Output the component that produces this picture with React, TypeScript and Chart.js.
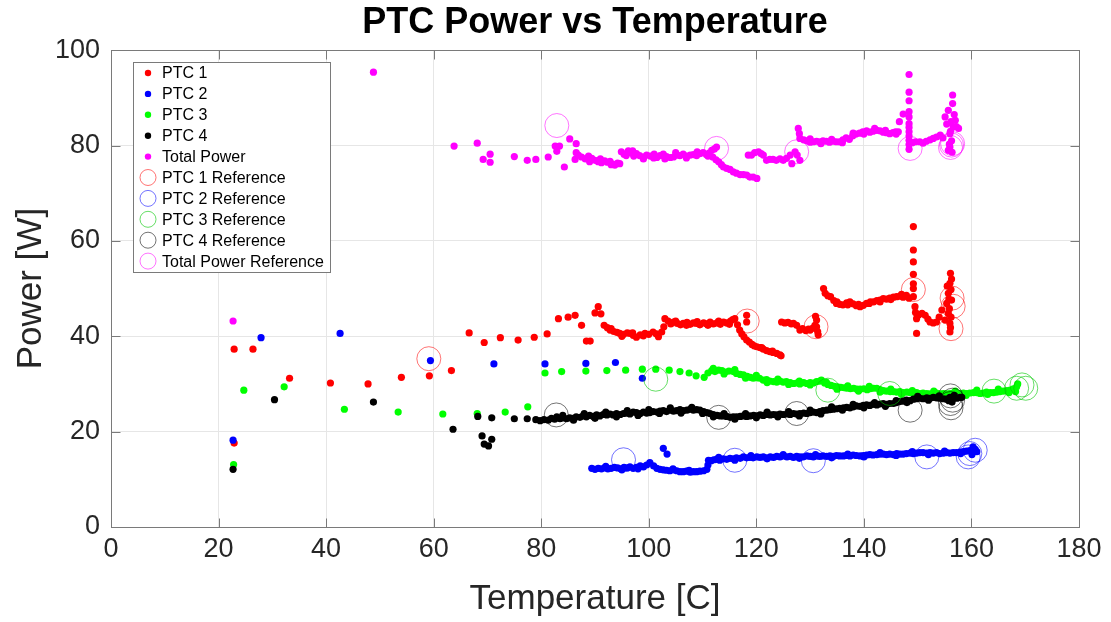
import { useEffect, useRef } from "react";
import { Chart, registerables } from "chart.js";

Chart.register(...registerables);

type Pt = [number, number];

// Measured heater powers [temperature C, power W]
const ptc1: Pt[] = [
  [22.9, 17.6], [22.9, 37.3], [26.4, 37.3], [33.2, 31.2], [40.8, 30.2], [47.8, 30.0], [54.0, 31.4],
  [59.2, 31.7], [63.3, 32.8], [66.6, 40.7], [69.4, 38.7], [72.4, 39.7], [75.7, 39.2], [78.7, 39.8],
  [81.1, 40.5], [83.2, 43.7], [85.0, 44.0], [86.3, 44.4], [87.5, 42.3], [88.4, 39.0], [89.1, 39.0],
  [90.0, 44.9], [90.6, 46.2], [91.1, 44.7],
  [91.7, 42.3], [92.3, 41.8], [92.8, 41.3], [93.5, 41.0], [94.1, 40.8], [94.6, 40.6], [95.3, 40.4],
  [96.0, 40.7], [96.5, 40.6], [97.1, 40.2], [97.7, 39.8], [98.4, 40.3], [99.3, 40.6], [100.0, 40.4],
  [100.8, 40.9], [101.4, 40.5], [101.8, 39.9], [102.4, 40.9], [102.8, 42.0], [103.0, 43.7], [103.6, 43.2],
  [104.1, 42.6], [104.6, 43.0], [105.3, 42.7], [105.9, 42.4], [106.4, 42.7], [107.1, 42.9], [107.7, 42.5],
  [108.3, 42.8], [108.9, 42.7], [109.5, 42.4], [110.2, 42.8], [110.8, 42.6], [111.4, 43.0], [112.0, 42.6],
  [112.7, 42.8], [113.3, 42.5], [113.9, 43.0], [114.5, 42.8], [115.2, 43.2], [115.6, 43.5], [116.0, 43.7],
  [116.5, 42.4], [116.9, 41.3], [117.3, 40.5], [117.7, 39.9], [118.2, 39.2], [118.2, 43.0], [118.2, 44.4],
  [118.7, 38.8], [119.2, 38.3], [119.6, 38.0], [120.1, 37.8], [120.7, 37.6], [121.3, 37.3], [121.9, 37.0],
  [122.5, 36.8], [123.1, 36.6], [123.8, 36.4], [124.4, 36.1], [124.6, 35.9],
  [93.0, 41.6], [95.0, 40.0], [97.0, 40.7], [99.0, 40.1], [105.0, 43.2], [107.0, 42.3], [109.0, 43.1],
  [111.0, 42.3], [113.0, 43.2], [115.0, 42.5], [121.0, 37.6], [123.0, 36.9],
  [124.7, 43.0], [125.3, 42.8], [125.9, 42.9], [126.5, 42.6], [126.9, 42.7], [127.5, 42.3], [128.1, 41.3],
  [128.6, 41.6], [129.2, 41.2], [129.7, 41.5], [130.0, 41.3], [130.5, 41.7], [130.9, 42.3], [131.2, 43.4],
  [131.2, 42.0], [131.4, 41.0], [131.5, 40.3], [131.0, 44.2],
  [132.5, 50.0], [132.8, 49.0], [133.3, 48.5], [133.8, 48.3], [134.4, 47.5], [134.9, 46.9], [135.5, 46.7],
  [136.1, 46.6], [136.8, 47.0], [137.4, 47.2], [138.0, 46.8], [138.6, 46.4], [139.3, 46.2], [139.9, 46.5],
  [140.5, 46.9], [141.2, 47.2], [141.8, 47.2], [142.4, 47.5], [143.0, 47.6], [143.6, 47.9], [144.2, 47.8],
  [144.8, 48.0], [145.5, 48.2], [146.1, 48.3], [146.7, 48.4], [147.3, 48.2], [147.9, 48.6], [148.4, 48.0],
  [135.0, 47.2], [137.0, 46.6], [139.0, 46.7], [141.0, 46.9], [143.0, 47.2], [145.0, 47.7], [147.0, 48.8],
  [149.2, 63.0], [149.2, 58.1], [149.2, 55.6], [149.2, 53.0], [149.2, 51.0], [149.2, 50.0], [149.2, 48.3],
  [149.5, 46.2], [149.6, 45.0], [149.8, 43.7], [149.8, 40.6],
  [150.2, 44.5], [150.8, 44.8], [151.4, 44.4], [151.9, 43.6], [152.3, 43.0], [152.9, 42.8], [153.5, 43.0],
  [154.0, 44.0], [154.5, 45.5], [155.1, 43.4], [155.4, 46.9], [155.5, 50.5], [155.7, 49.0], [155.7, 44.8],
  [156.0, 51.1], [156.0, 42.7], [156.0, 40.9], [156.1, 53.2], [156.3, 47.6], [155.9, 45.8], [156.2, 44.0],
  [156.1, 41.8], [155.8, 47.8], [156.3, 52.0], [156.2, 49.8],
];

const ptc2: Pt[] = [
  [22.7, 18.2], [27.9, 39.7], [42.6, 40.6], [59.4, 34.9], [71.2, 34.2], [80.7, 34.2], [88.3, 34.3],
  [93.8, 34.5], [98.8, 31.2], [102.7, 16.5], [103.4, 15.3],
  [89.4, 12.3], [90.0, 12.1], [90.6, 12.3], [91.2, 12.2], [91.8, 12.4], [92.4, 12.2], [93.0, 12.3],
  [93.6, 12.5], [94.2, 12.4], [94.8, 12.2], [95.4, 12.5], [96.0, 12.4], [96.5, 12.6], [97.1, 12.3],
  [97.7, 12.5], [98.4, 12.8], [99.0, 12.6], [99.6, 13.0], [100.2, 13.5], [100.9, 12.8], [101.5, 12.3],
  [102.1, 12.1], [102.7, 12.0], [103.3, 11.9], [103.9, 11.8], [104.6, 12.0], [105.2, 11.8], [105.8, 11.6],
  [106.4, 11.6], [107.0, 11.7], [107.7, 11.5], [108.3, 11.6], [108.9, 11.6], [109.5, 11.7], [110.2, 11.8],
  [92.0, 12.7], [95.0, 12.0], [98.0, 12.2], [104.5, 12.2], [107.5, 11.9],
  [110.8, 12.1], [111.0, 13.0], [111.1, 14.0], [111.6, 13.9], [112.1, 14.1], [112.6, 14.2], [113.2, 14.0],
  [113.9, 14.3], [114.5, 14.2], [115.1, 14.4], [115.7, 14.3], [116.3, 14.5], [117.0, 14.4], [117.6, 14.7],
  [118.2, 14.5], [118.8, 14.6], [119.4, 14.5], [120.1, 14.7], [120.7, 14.6], [121.3, 14.7], [121.9, 14.5],
  [122.6, 14.7], [123.2, 14.6], [123.8, 14.8], [124.4, 14.7], [125.0, 14.9], [125.7, 14.7], [126.3, 14.8],
  [126.9, 14.6], [127.5, 14.8], [128.1, 14.7], [128.7, 14.7], [129.4, 14.9], [130.0, 14.8], [130.6, 14.7],
  [131.2, 14.9], [131.8, 14.8], [132.4, 14.9], [133.1, 14.8], [133.7, 14.9], [134.3, 14.8], [134.9, 15.0],
  [135.5, 14.9], [136.2, 14.9], [136.8, 15.0], [137.4, 14.9], [138.0, 15.1], [138.6, 15.0], [139.3, 14.9],
  [139.9, 15.0], [140.5, 15.1], [141.1, 15.2], [141.7, 15.1], [142.4, 15.2], [143.0, 15.3], [143.6, 15.3],
  [144.2, 15.2], [144.8, 15.3], [145.5, 15.2], [146.1, 15.4], [146.7, 15.3], [147.3, 15.3], [147.9, 15.4],
  [148.6, 15.5], [149.2, 15.4], [149.8, 15.5], [150.4, 15.6], [151.0, 15.6], [151.7, 15.5], [152.3, 15.6],
  [152.9, 15.5], [153.5, 15.6], [154.1, 15.4], [154.8, 15.5], [155.4, 15.6], [156.0, 15.5], [156.6, 15.6],
  [157.2, 15.6], [157.9, 15.7], [158.5, 15.8], [159.1, 15.9], [159.7, 16.0], [160.3, 16.8], [160.5, 15.8],
  [161.0, 15.8], [160.1, 15.2], [160.7, 16.3],
  [113.0, 14.6], [116.0, 14.0], [119.0, 15.0], [122.0, 14.3], [125.0, 15.2], [128.0, 14.4], [131.0, 15.2],
  [134.0, 14.5], [137.0, 15.3], [140.0, 14.7], [143.0, 15.6], [146.0, 15.0], [149.0, 15.8], [152.0, 15.2],
  [155.0, 15.9], [158.0, 15.4],
];

const ptc3: Pt[] = [
  [22.8, 13.1], [24.7, 28.7], [32.2, 29.4], [43.4, 24.7], [53.4, 24.1], [61.7, 23.7], [68.1, 23.8],
  [73.3, 24.1], [77.5, 25.2],
  [80.7, 32.3], [83.8, 32.6], [88.3, 32.7], [92.2, 32.8], [95.7, 32.9], [98.8, 33.1], [101.3, 33.1],
  [103.8, 32.9], [105.8, 32.6], [107.5, 32.3], [108.8, 31.7], [110.3, 31.4],
  [111.0, 32.3], [111.7, 32.8], [112.3, 32.6], [113.0, 32.9], [113.6, 32.8], [114.2, 32.5], [114.9, 32.7],
  [115.7, 32.6], [116.3, 32.2], [117.0, 32.0], [117.6, 31.9], [118.3, 31.6], [118.9, 31.4], [119.4, 31.2],
  [120.0, 31.3], [120.6, 31.2], [121.3, 30.8], [121.9, 30.9], [122.5, 30.6], [123.2, 30.5], [123.8, 30.4],
  [124.4, 30.6], [125.0, 30.4], [125.6, 30.5], [126.3, 30.3], [126.9, 30.1], [127.5, 30.2], [128.1, 30.0],
  [128.8, 30.3], [129.4, 30.1], [130.0, 30.3], [130.6, 30.2], [131.2, 30.5], [131.8, 30.6], [132.1, 30.8],
  [132.7, 30.2], [133.3, 29.9], [133.9, 29.7], [134.5, 29.5], [135.1, 29.4], [135.7, 29.3], [136.3, 29.2],
  [136.8, 29.1], [137.5, 29.0], [138.1, 29.1], [138.7, 28.9], [139.3, 28.9], [140.0, 29.0], [140.6, 28.8],
  [141.2, 29.0], [141.8, 29.1], [142.4, 29.1], [143.0, 28.8], [143.6, 28.6], [144.2, 28.5], [144.9, 28.4],
  [145.5, 28.4], [146.1, 28.3], [146.7, 28.4], [147.3, 28.2], [148.0, 28.3], [148.6, 28.2], [149.2, 28.1],
  [149.8, 28.2], [150.4, 28.0], [151.0, 28.1], [151.7, 28.0], [152.3, 27.9], [152.9, 28.0], [153.5, 28.1],
  [154.2, 27.9], [154.8, 28.0], [155.4, 27.9], [156.0, 28.0], [156.6, 28.1], [157.3, 27.9], [157.9, 28.0],
  [158.5, 28.1], [159.1, 28.0], [159.7, 28.1], [160.4, 28.2], [161.0, 28.2], [161.6, 28.0], [162.2, 28.1],
  [162.8, 28.3], [163.5, 28.2], [164.1, 28.2], [164.7, 28.3], [165.3, 28.4], [165.9, 28.5], [166.6, 28.6],
  [167.2, 28.7], [167.8, 29.0], [168.4, 29.4], [168.6, 30.0], [168.2, 28.4],
  [112.0, 33.3], [114.0, 32.1], [116.0, 33.0], [118.0, 31.2], [120.0, 31.8], [122.0, 30.3], [124.0, 31.0],
  [126.0, 29.9], [128.0, 30.6], [130.0, 29.8], [133.0, 30.4], [135.0, 28.9], [137.0, 29.6], [139.0, 28.5],
  [141.0, 29.5], [143.0, 28.3], [145.0, 28.9], [147.0, 27.8], [149.0, 28.6], [151.0, 27.6], [153.0, 28.5],
  [155.0, 27.5], [157.0, 28.5], [159.0, 27.6], [161.0, 28.7], [163.0, 27.8], [165.0, 28.9], [167.0, 28.2],
];

const ptc4: Pt[] = [
  [22.7, 12.1], [30.4, 26.7], [48.8, 26.2], [63.6, 20.5], [68.2, 23.2], [69.0, 19.1], [69.4, 17.4],
  [70.2, 17.0], [70.8, 18.4], [70.8, 22.9], [75.0, 22.7], [77.4, 22.7], [79.0, 22.5],
  [79.8, 22.3], [80.5, 22.5], [81.3, 22.4], [81.9, 22.8], [82.5, 22.6], [82.9, 23.1], [83.5, 22.7],
  [84.1, 22.9], [84.7, 22.7], [85.3, 22.9], [85.9, 22.8], [86.5, 23.1], [87.2, 23.0], [87.8, 23.3],
  [88.4, 23.1], [89.0, 23.4], [89.7, 23.2], [90.3, 23.5], [90.9, 23.3], [91.5, 23.6], [92.2, 23.5],
  [92.8, 23.7], [93.4, 23.5], [94.0, 23.8], [94.7, 23.6], [95.3, 23.8], [95.9, 23.9], [96.5, 23.7],
  [97.1, 24.1], [97.7, 24.0], [98.4, 23.8], [99.0, 24.1], [99.6, 23.9], [100.2, 24.0], [100.8, 24.2],
  [101.5, 24.1], [102.1, 24.3], [102.7, 24.4], [103.3, 24.2], [104.0, 24.5], [104.6, 24.3], [105.2, 24.4],
  [105.8, 24.6], [106.4, 24.4], [107.1, 24.5], [107.7, 24.7], [108.3, 24.5], [108.9, 24.6], [109.5, 24.5],
  [110.2, 24.2], [110.8, 24.0], [111.4, 23.8], [112.0, 23.6], [112.7, 23.4], [113.3, 23.3], [113.9, 23.3],
  [114.5, 23.2], [115.1, 23.0], [115.7, 23.1], [116.3, 23.1], [117.0, 23.2], [117.6, 23.3], [118.2, 23.2],
  [118.8, 23.3], [119.5, 23.4], [120.1, 23.3], [120.7, 23.5], [121.3, 23.4], [121.9, 23.6], [122.6, 23.5],
  [123.2, 23.6], [123.8, 23.5], [124.4, 23.7], [125.0, 23.6], [125.7, 23.7], [126.3, 23.6], [126.9, 23.8],
  [127.5, 23.7], [128.1, 23.8], [128.8, 23.9], [129.4, 23.8], [130.0, 24.0], [130.6, 24.1], [131.2, 24.0],
  [131.8, 24.2], [132.4, 24.4], [133.1, 24.5], [133.7, 24.6], [134.3, 24.7], [134.9, 24.8], [135.5, 24.9],
  [136.2, 25.0], [136.8, 25.1], [137.4, 25.0], [138.0, 25.2], [138.6, 25.4], [139.3, 25.3], [139.9, 25.5],
  [140.5, 25.6], [141.1, 25.5], [141.7, 25.7], [142.4, 25.6], [143.0, 25.8], [143.6, 25.9], [144.2, 25.7],
  [144.8, 25.9], [145.5, 25.9], [146.1, 26.1], [146.7, 26.3], [147.3, 26.4], [147.9, 26.6], [148.6, 26.5],
  [149.2, 26.8], [149.8, 26.9], [150.4, 27.0], [151.0, 26.9], [151.7, 27.1], [152.3, 27.0], [152.9, 27.2],
  [153.5, 27.1], [154.1, 27.0], [154.8, 26.9], [155.4, 26.8], [156.0, 27.2], [156.6, 27.0], [157.3, 27.0],
  [157.9, 27.2], [158.2, 27.2], [156.4, 26.2], [155.8, 26.5],
  [84.0, 23.4], [86.0, 22.4], [88.0, 23.8], [90.0, 22.8], [92.0, 24.1], [94.0, 23.1], [96.0, 24.4],
  [98.0, 23.4], [100.0, 24.6], [102.0, 23.8], [104.0, 25.0], [106.0, 23.9], [108.0, 25.1], [110.0, 23.8],
  [112.0, 23.1], [114.0, 23.8], [116.0, 22.6], [118.0, 23.8], [120.0, 22.9], [122.0, 24.1], [124.0, 23.1],
  [126.0, 24.2], [128.0, 23.3], [130.0, 24.5], [132.0, 23.7], [134.0, 25.2], [136.0, 24.5], [138.0, 25.7],
  [140.0, 25.0], [142.0, 26.1], [144.0, 25.3], [146.0, 26.5], [148.0, 26.1], [150.0, 27.4], [152.0, 26.6],
  [154.0, 27.5], [156.8, 27.6],
];

const totalPower: Pt[] = [
  [22.7, 43.2], [48.8, 95.4], [63.8, 79.9], [68.1, 80.5], [69.2, 77.1], [70.5, 76.5], [70.5, 78.2],
  [75.0, 77.7], [77.4, 76.9], [79.0, 77.1], [81.3, 77.6], [82.6, 79.9], [83.4, 79.9], [82.9, 78.8],
  [84.3, 75.5], [85.3, 81.4], [86.5, 80.4], [86.5, 78.5], [86.3, 77.1],
  [86.9, 78.0], [87.5, 77.6], [88.2, 77.2], [88.8, 77.8], [89.4, 77.3], [90.0, 76.9], [90.6, 76.6],
  [91.2, 76.4], [91.8, 76.8], [92.3, 76.5], [92.8, 76.7], [93.3, 76.1], [93.7, 75.9], [94.2, 76.3],
  [94.6, 76.2], [94.9, 78.7], [95.4, 78.2], [95.8, 77.9], [96.2, 78.9], [96.8, 78.4], [97.2, 77.8],
  [97.7, 78.3], [98.3, 77.9], [99.0, 77.6], [99.6, 78.0], [100.3, 77.8], [100.9, 77.4], [101.5, 77.5],
  [102.1, 77.9], [102.7, 78.2], [103.3, 77.7], [104.0, 77.5], [104.6, 77.6], [105.2, 78.0], [105.8, 77.9],
  [106.4, 78.2], [107.0, 77.8], [107.7, 78.0], [108.3, 78.1], [108.9, 77.9], [109.5, 78.3], [110.1, 78.5],
  [110.7, 78.1], [111.2, 78.4], [111.7, 79.0], [112.2, 79.3], [112.6, 79.7], [111.9, 77.6], [112.5, 77.0],
  [113.0, 76.6], [113.5, 76.0], [113.9, 75.5], [114.5, 75.2], [115.1, 75.0], [115.7, 74.5], [116.3, 74.2],
  [117.0, 73.9], [117.6, 73.9], [118.2, 73.8], [118.8, 73.4], [119.4, 73.4], [120.1, 73.1],
  [89.0, 76.6], [91.0, 77.2], [93.0, 76.0], [97.0, 78.9], [99.0, 77.2], [101.0, 78.2], [103.0, 77.2],
  [105.0, 78.5], [107.0, 77.4], [109.0, 78.7], [111.0, 77.8],
  [118.5, 78.0], [119.1, 78.0], [119.7, 78.5], [120.4, 78.7], [120.9, 78.3], [121.3, 78.0], [121.9, 76.9],
  [122.5, 77.1], [123.1, 77.1], [123.7, 76.9], [124.4, 77.2], [125.0, 76.9], [125.6, 77.3], [126.3, 78.0],
  [126.6, 76.2], [127.2, 78.7], [127.6, 78.0], [128.1, 76.9], [127.8, 83.6], [128.1, 81.5], [128.0, 82.5],
  [128.8, 81.2], [129.4, 81.0], [130.0, 80.7], [130.6, 80.8], [131.2, 80.9], [131.8, 80.8], [132.4, 81.0],
  [133.0, 80.9], [133.6, 80.7], [134.3, 80.9], [134.9, 80.8], [135.5, 80.8], [136.1, 81.2], [136.7, 81.6],
  [137.3, 81.3], [137.9, 82.0], [138.5, 82.4], [139.2, 82.6], [139.8, 82.9], [140.5, 83.1], [141.1, 82.8],
  [141.7, 83.0], [142.4, 83.2], [143.0, 83.1], [143.6, 82.8], [144.2, 82.7], [144.8, 82.5], [145.4, 82.7],
  [145.9, 82.9], [146.4, 82.9], [146.6, 85.0], [147.3, 86.6],
  [130.0, 81.4], [132.0, 80.4], [134.0, 81.3], [136.0, 80.6], [138.0, 82.6], [140.0, 82.4], [142.0, 83.6],
  [144.0, 83.2], [146.0, 82.4],
  [148.4, 94.9], [148.4, 91.2], [148.4, 89.4], [148.4, 87.1], [148.4, 86.0], [148.4, 84.6], [148.4, 83.8],
  [148.4, 82.9], [148.4, 82.0], [148.4, 81.1], [148.4, 80.2], [148.4, 79.2],
  [149.0, 80.6], [149.6, 80.8], [150.4, 80.8], [151.0, 80.5], [151.6, 80.9], [152.3, 81.2], [152.9, 81.5],
  [153.5, 81.8], [154.2, 82.2], [154.7, 81.6],
  [155.1, 86.0], [155.4, 84.5], [155.7, 87.4], [155.7, 79.0], [156.0, 79.7], [156.0, 82.5], [156.2, 85.0],
  [156.5, 90.6], [156.5, 88.8], [156.6, 83.9], [156.3, 81.0], [156.8, 86.5], [157.0, 85.3], [157.2, 84.0],
  [157.6, 83.6], [155.9, 80.3], [156.4, 78.6], [156.1, 83.0],
];

// Reference operating points
const ptc1Ref: Pt[] = [[59.1, 35.3], [118.3, 43.2], [131.1, 42.0], [149.2, 49.8], [156.4, 48.0], [156.6, 46.3], [156.2, 41.6]];
const ptc2Ref: Pt[] = [[95.3, 14.1], [116.0, 14.0], [130.6, 13.9], [151.7, 14.7], [159.4, 14.7], [159.7, 15.4], [160.7, 16.1]];
const ptc3Ref: Pt[] = [[101.3, 31.0], [133.3, 28.7], [144.8, 28.0], [164.2, 28.5], [168.4, 29.1], [169.4, 29.8], [170.1, 29.1]];
const ptc4Ref: Pt[] = [[82.8, 23.5], [113.0, 23.0], [127.5, 23.8], [148.6, 24.5], [156.1, 27.5], [156.1, 25.9], [156.2, 25.0], [156.5, 26.6]];
const totalRef: Pt[] = [[82.9, 84.2], [112.6, 79.4], [127.5, 78.7], [148.6, 79.4], [156.3, 80.1], [156.1, 79.6], [156.5, 80.4]];

const xTicks = [0, 20, 40, 60, 80, 100, 120, 140, 160, 180];
const yTicks = [0, 20, 40, 60, 80, 100];

const FONT = '"Liberation Sans", Arial, Helvetica, sans-serif';
const TEXT = "#262626";
const AXIS = "#7a7a7a";
const TICK_LEN = 9;

const measured = [
  { label: "PTC 1", pts: ptc1, color: "#ff0000" },
  { label: "PTC 2", pts: ptc2, color: "#0000ff" },
  { label: "PTC 3", pts: ptc3, color: "#00ff00" },
  { label: "PTC 4", pts: ptc4, color: "#000000" },
  { label: "Total Power", pts: totalPower, color: "#ff00ff" },
];
const references = [
  { label: "PTC 1 Reference", pts: ptc1Ref, color: "rgba(255,0,0,0.55)" },
  { label: "PTC 2 Reference", pts: ptc2Ref, color: "rgba(0,0,255,0.55)" },
  { label: "PTC 3 Reference", pts: ptc3Ref, color: "rgba(0,200,0,0.6)" },
  { label: "PTC 4 Reference", pts: ptc4Ref, color: "rgba(0,0,0,0.55)" },
  { label: "Total Power Reference", pts: totalRef, color: "rgba(255,0,255,0.55)" },
];

// Box, inward tick marks on all four sides, and the inset legend
const framePlugin = {
  id: "frame",
  afterDatasetsDraw(chart: any) {
    const { ctx, chartArea: a, scales } = chart;
    const L = Math.round(a.left) + 0.5;
    const R = Math.round(a.right) + 0.5;
    const T = Math.round(a.top) + 0.5;
    const B = Math.round(a.bottom) + 0.5;
    ctx.save();
    ctx.strokeStyle = AXIS;
    ctx.lineWidth = 1;
    ctx.beginPath();
    for (const v of xTicks) {
      const px = Math.round(scales.x.getPixelForValue(v)) + 0.5;
      ctx.moveTo(px, B); ctx.lineTo(px, B - TICK_LEN);
      ctx.moveTo(px, T); ctx.lineTo(px, T + TICK_LEN);
    }
    for (const v of yTicks) {
      const py = Math.round(scales.y.getPixelForValue(v)) + 0.5;
      ctx.moveTo(L, py); ctx.lineTo(L + TICK_LEN, py);
      ctx.moveTo(R, py); ctx.lineTo(R - TICK_LEN, py);
    }
    ctx.stroke();
    ctx.strokeRect(L, T, R - L, B - T);

    // legend
    const lx = 133.5, ly = 62.5, lw = 197, lh = 210;
    ctx.fillStyle = "#ffffff";
    ctx.fillRect(lx, ly, lw, lh);
    ctx.strokeStyle = AXIS;
    ctx.strokeRect(lx, ly, lw, lh);
    const entries = [
      ...measured.map((s) => ({ ...s, ring: false })),
      ...references.map((s) => ({ ...s, ring: true })),
    ];
    ctx.font = `16px ${FONT}`;
    ctx.textBaseline = "middle";
    ctx.textAlign = "left";
    entries.forEach((e, i) => {
      const cy = 73 + i * 20.9;
      ctx.beginPath();
      if (e.ring) {
        ctx.arc(148, cy, 8, 0, Math.PI * 2);
        ctx.strokeStyle = e.color;
        ctx.lineWidth = 1;
        ctx.stroke();
      } else {
        ctx.arc(148, cy, 3.2, 0, Math.PI * 2);
        ctx.fillStyle = e.color;
        ctx.fill();
      }
      ctx.fillStyle = "#000000";
      ctx.fillText(e.label, 162, cy + 1);
    });
    ctx.restore();
  },
};

export default function App() {
  const ref = useRef<HTMLCanvasElement>(null);

  useEffect(() => {
    const toXY = (pts: Pt[]) => pts.map(([x, y]) => ({ x, y }));
    const datasets: any[] = [
      ...measured.map((s, i) => ({
        label: s.label,
        data: toXY(s.pts),
        showLine: false,
        pointStyle: "circle",
        pointRadius: 3.6,
        pointBorderWidth: 0,
        pointBackgroundColor: s.color,
        pointBorderColor: s.color,
        order: 20 - i,
      })),
      ...references.map((s, i) => ({
        label: s.label,
        data: toXY(s.pts),
        showLine: false,
        pointStyle: "circle",
        pointRadius: 12,
        pointBorderWidth: 1,
        pointBackgroundColor: "rgba(0,0,0,0)",
        pointBorderColor: s.color,
        order: 10 - i,
      })),
    ];

    const chart = new Chart(ref.current!, {
      type: "scatter",
      data: { datasets },
      plugins: [framePlugin],
      options: {
        animation: false,
        responsive: false,
        devicePixelRatio: 1,
        events: [],
        layout: { padding: { left: 0, right: 32, top: 0, bottom: 0 } },
        plugins: {
          legend: { display: false },
          tooltip: { enabled: false },
          title: {
            display: true,
            text: "PTC Power vs Temperature",
            fullSize: false,
            color: "#000000",
            font: { family: FONT, size: 36, weight: "bold", lineHeight: 1.2 },
            padding: { top: 1, bottom: 6 },
          },
        },
        scales: {
          x: {
            type: "linear",
            min: 0,
            max: 180,
            afterFit: (s: any) => { s.height = 95; },
            afterBuildTicks: (s: any) => { s.ticks = xTicks.map((v) => ({ value: v })); },
            grid: { color: "#e6e6e6", drawTicks: false },
            border: { display: false },
            ticks: { color: TEXT, padding: 6, maxRotation: 0, font: { family: FONT, size: 27 } },
            title: {
              display: true,
              text: "Temperature [C]",
              color: TEXT,
              font: { family: FONT, size: 35, lineHeight: 1.2 },
              padding: { top: 0, bottom: 2 },
            },
          },
          y: {
            type: "linear",
            min: 0,
            max: 100,
            afterFit: (s: any) => { s.width = 111; },
            afterBuildTicks: (s: any) => { s.ticks = yTicks.map((v) => ({ value: v })); },
            grid: { color: "#e6e6e6", drawTicks: false },
            border: { display: false },
            ticks: { color: TEXT, padding: 11, font: { family: FONT, size: 27 } },
            title: {
              display: true,
              text: "Power [W]",
              color: TEXT,
              font: { family: FONT, size: 35, lineHeight: 1.2 },
              padding: { top: 10, bottom: 0 },
            },
          },
        },
      },
    });
    return () => chart.destroy();
  }, []);

  return (
    <div style={{ position: "fixed", left: 0, top: 0, width: 1111, height: 622, background: "#ffffff" }}>
      <canvas ref={ref} width={1111} height={622} style={{ display: "block" }} />
    </div>
  );
}
